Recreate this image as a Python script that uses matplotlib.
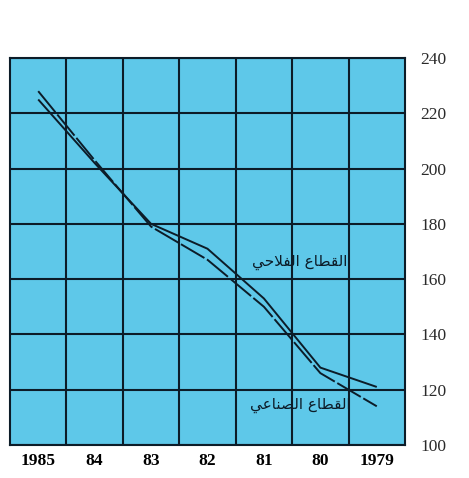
import matplotlib
matplotlib.use("Agg")
import matplotlib.pyplot as plt
from matplotlib.ticker import FixedLocator

years = ["1985", "84", "83", "82", "81", "80", "1979"]
agri = [225, 202, 180, 171, 153, 128, 121]
indus = [228, 203, 179, 167, 150, 126, 114]
y_ticks = [100, 120, 140, 160, 180, 200, 220, 240]
# Arabic labels in presentation forms, visual order
label_agri = "\uFEF2\uFEA3\uFEFC\uFED4\uFEDF\uFE8D \uFEC9\uFE8E\uFEC4\uFED8\uFEDF\uFE8D"   # القطاع الفلاحي
label_indus = "\uFEF2\uFECB\uFE8E\uFEE8\uFEBC\uFEDF\uFE8D \uFEC9\uFE8E\uFEC4\uFED8\uFEDF\uFE8D"  # القطاع الصناعي

bg = "#5ec8e9"
ink = "#0c1c28"

fig = plt.figure(figsize=(4.69, 4.78), dpi=100)
ax = fig.add_axes([10/469, 1-445/478, (405-10)/469, (445-58)/478])
ax.set_facecolor(bg)

x = list(range(len(years)))
ax.plot(x, agri, color=ink, lw=1.4, solid_capstyle="butt")
ax.plot(x, indus, color=ink, lw=1.4, dashes=(14, 1.5))

ax.set_xlim(-0.5, len(years) - 0.5)
ax.set_ylim(100, 240)

ax.xaxis.set_major_locator(FixedLocator(x))
ax.set_xticklabels(years, family="Liberation Serif", fontweight="bold", fontsize=12.5)
ax.xaxis.set_minor_locator(FixedLocator([i + 0.5 for i in x[:-1]]))
ax.tick_params(axis="x", which="both", length=0, pad=6)

ax.yaxis.tick_right()
ax.set_yticks(y_ticks)
ax.set_yticklabels([str(v) for v in y_ticks], family="Liberation Serif", fontsize=12.5, color="#2a2a2a")
ax.tick_params(axis="y", length=0, pad=11)

ax.grid(True, which="minor", axis="x", color=ink, lw=1.5)
ax.grid(True, which="major", axis="y", color=ink, lw=1.5)
ax.grid(False, which="major", axis="x")
for s in ax.spines.values():
    s.set_color(ink)
    s.set_linewidth(1.5)

ax.text(4.64, 166, label_agri, family=["DejaVu Sans"], fontsize=11, color=ink,
        ha="center", va="center")
ax.text(4.64, 114.5, label_indus, family=["DejaVu Sans"], fontsize=11, color=ink,
        ha="center", va="center")

fig.savefig("out.png", dpi=100, facecolor="white")
